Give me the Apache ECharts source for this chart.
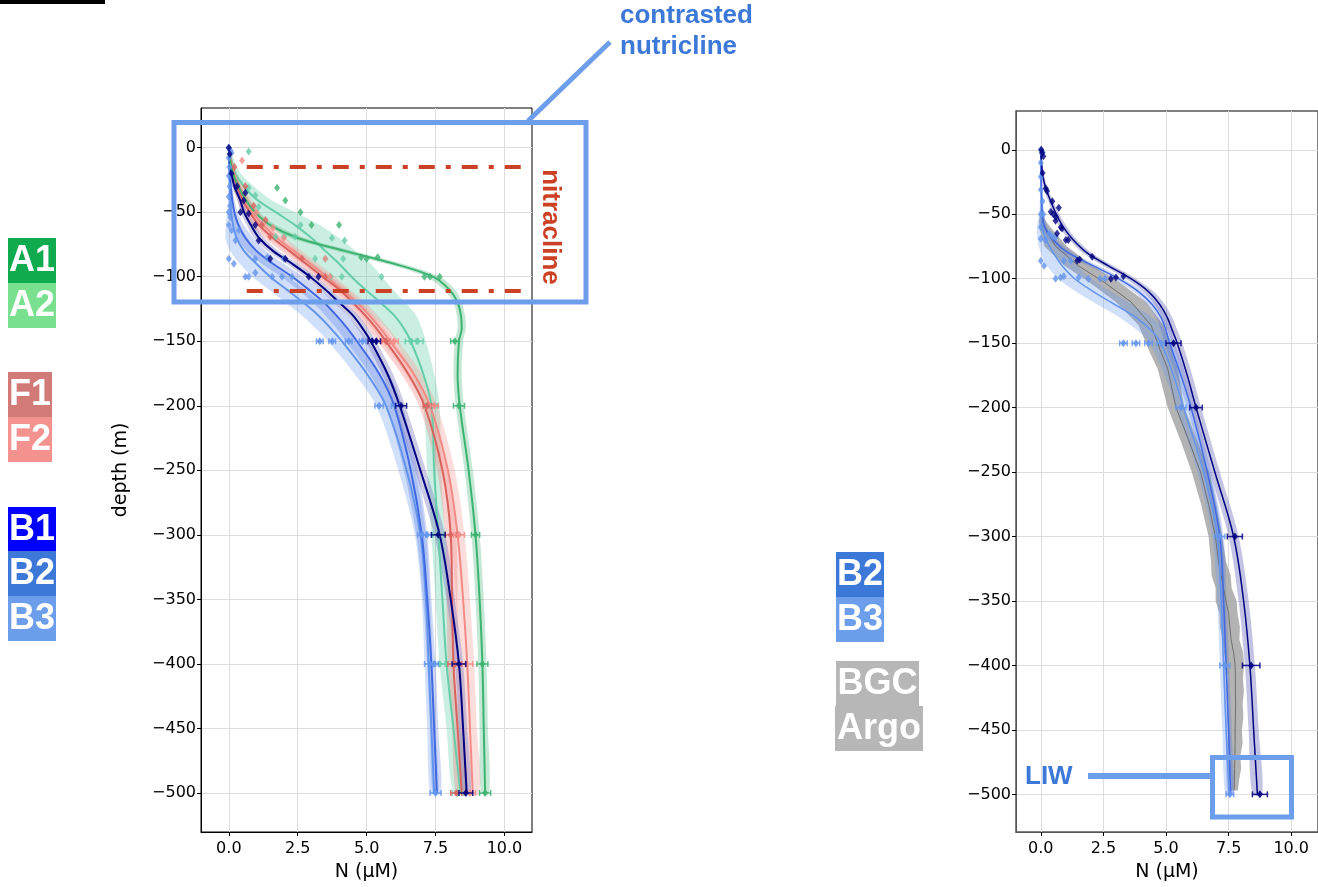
<!DOCTYPE html>
<html><head><meta charset="utf-8">
<script src="https://cdn.jsdelivr.net/npm/echarts@6/dist/echarts.min.js"></script>
<style>html,body{margin:0;padding:0;background:#fff}#c{width:1318px;height:887px}</style>
</head><body><div id="c"></div>
<script>
// ---------- tick labels ----------
const xTicks = [0, 2.5, 5, 7.5, 10];
const yTicks = [0, -50, -100, -150, -200, -250, -300, -350, -400, -450, -500];

// ---------- depth grid of fitted profiles (m, positive down) ----------
const fitDepth = [0,10,20,30,40,50,60,70,80,90,100,110,120,130,140,150,175,200,250,300,350,400,450,500];

// ---------- left panel: fitted N (µM) and half-width of shaded band ----------
const A1_N  = [0,0.05,0.15,0.35,0.6,0.95,1.5,2.5,4.2,6.0,7.4,8.0,8.3,8.42,8.45,8.35,8.3,8.38,8.7,8.95,9.1,9.2,9.25,9.3];
const A1_hw = [0.02,0.05,0.08,0.1,0.12,0.15,0.2,0.25,0.3,0.3,0.25,0.2,0.15,0.15,0.15,0.15,0.15,0.15,0.15,0.15,0.15,0.15,0.15,0.15];
const A2_N  = [0,0.1,0.24,0.55,1.0,1.7,2.4,3.0,3.5,4.0,4.45,4.95,5.5,6.0,6.35,6.6,7.05,7.35,7.45,7.6,7.75,7.9,8.15,8.4];
const A2_hw = [0.03,0.1,0.2,0.35,0.5,0.7,0.9,1.0,1.1,1.15,1.1,1.0,0.9,0.8,0.65,0.55,0.4,0.3,0.25,0.25,0.25,0.25,0.25,0.25];
const F1_N  = [0,0.05,0.15,0.3,0.5,0.75,1.1,1.6,2.2,2.8,3.4,4.0,4.5,4.95,5.35,5.7,6.5,7.1,7.75,8.05,8.1,8.15,8.3,8.45];
const F1_hw = [0.02,0.05,0.1,0.15,0.2,0.25,0.3,0.3,0.3,0.3,0.3,0.3,0.3,0.3,0.3,0.3,0.25,0.2,0.2,0.2,0.2,0.2,0.2,0.2];
const F2_N  = [0,0.08,0.2,0.38,0.6,0.85,1.25,1.75,2.35,2.95,3.55,4.1,4.65,5.1,5.5,5.85,6.7,7.3,7.95,8.3,8.5,8.65,8.75,8.85];
const F2_hw = [0.02,0.05,0.1,0.15,0.2,0.25,0.3,0.3,0.3,0.3,0.3,0.3,0.3,0.3,0.3,0.3,0.3,0.25,0.25,0.25,0.25,0.25,0.25,0.25];
const B1_N  = [0,0.03,0.1,0.2,0.4,0.55,0.8,1.1,1.6,2.3,2.95,3.5,4.0,4.5,4.85,5.15,5.75,6.2,6.95,7.65,8.05,8.35,8.5,8.63];
const B1_hw = [0.02,0.03,0.05,0.08,0.1,0.12,0.15,0.18,0.2,0.2,0.2,0.2,0.2,0.2,0.2,0.2,0.2,0.2,0.2,0.2,0.15,0.15,0.15,0.15];
const B2_N  = [0,0.02,0.04,0.07,0.12,0.2,0.35,0.6,1.0,1.6,2.3,2.9,3.45,3.9,4.3,4.65,5.45,6.0,6.6,7.0,7.2,7.35,7.45,7.55];
const B2_hw = [0.02,0.02,0.03,0.05,0.08,0.12,0.2,0.3,0.35,0.4,0.4,0.4,0.4,0.4,0.4,0.4,0.35,0.3,0.25,0.2,0.15,0.15,0.15,0.15];
const B3_N  = [0,0.01,0.02,0.03,0.05,0.08,0.15,0.28,0.55,1.0,1.5,2.1,2.7,3.25,3.7,4.1,5.0,5.7,6.45,6.95,7.15,7.25,7.35,7.45];
const B3_hw = [0.02,0.02,0.03,0.05,0.08,0.15,0.25,0.4,0.5,0.6,0.65,0.65,0.65,0.6,0.55,0.5,0.45,0.35,0.3,0.2,0.15,0.15,0.15,0.15];

// left panel observations [N, depth] and deep ones [N, depth, err]
const A1_pts  = [[1.75,31],[2.05,41],[2.6,50],[3.0,60],[4.0,60],[4.8,85],[5.4,85],[5.0,86],[7.1,100],[7.3,100],[7.65,100]];
const A1_deep = [[8.2,150,0.15],[8.35,200,0.2],[8.95,300,0.15],[9.2,400,0.2],[9.3,500,0.2]];
const A2_pts  = [[0.72,3],[0.72,31],[0.96,37],[1.08,46],[1.7,69],[2.0,69],[2.4,69],[2.6,60],[3.74,70],[4.2,72],[3.13,86],[3.5,86],[4.15,86],[3.7,100],[4.1,100],[5.54,100]];
const A2_deep = [[6.6,150,0.2],[6.85,150,0.2],[7.35,200,0.2],[7.6,300,0.2],[7.65,400,0.2],[8.3,500,0.2]];
const F1_pts  = [[0.2,15],[0.6,30],[0.9,45],[1.33,56],[1.2,60],[1.5,69],[2.65,86],[3.5,100]];
const F1_deep = [[5.7,150,0.15],[7.2,200,0.15],[8.05,300,0.2],[8.2,400,0.25],[8.25,500,0.2]];
const F2_pts  = [[0.48,10],[1.0,50],[2.0,70],[3.5,86],[3.67,100],[1.6,62]];
const F2_deep = [[6.0,150,0.15],[7.45,200,0.15],[8.35,300,0.2],[8.6,400,0.25],[8.75,500,0.2]];
const B1_pts  = [[0,0],[0.03,5],[0.1,20],[0.3,30],[0.6,35],[0.54,41],[0.42,50],[0.72,51],[0.96,60],[1.08,72],[1.5,86],[2.05,86],[2.9,100],[3.25,100]];
const B1_deep = [[5.2,150,0.15],[5.35,150,0.15],[6.25,200,0.2],[7.6,300,0.25],[8.35,400,0.25],[8.6,500,0.25]];
const B23_pts = [[0,0],[0.05,2],[0.1,4],[0,8],[0.02,15],[0,22],[0.03,30],[0,38],[0.05,45],[0,50],[0.06,54],[0,60],[0.1,64],[0.36,64],[0.24,72],[0,86],[0.96,86],[1.4,85],[2.0,86],[0.18,90],[0.96,97],[0.6,100],[0.72,100],[1.57,100],[1.93,100],[2.29,100]];
const B23_deep = [[3.3,150,0.12],[3.75,150,0.12],[4.35,150,0.12],[4.85,150,0.12],[5.45,200,0.15],[6.05,200,0.15],[7.0,300,0.15],[7.2,300,0.15],[7.3,400,0.2],[7.45,400,0.15],[7.5,500,0.2]];

// ---------- right panel ----------
const R1_N  = [0,0.03,0.08,0.2,0.4,0.62,0.9,1.3,1.85,2.7,3.6,4.3,4.75,5.05,5.25,5.45,5.85,6.2,6.95,7.7,8.1,8.35,8.5,8.65];
const R1_hw = [0.02,0.03,0.05,0.08,0.1,0.12,0.15,0.15,0.18,0.2,0.2,0.2,0.2,0.2,0.2,0.2,0.2,0.2,0.2,0.2,0.2,0.2,0.2,0.2];
const R2_N  = [0,0.01,0.02,0.03,0.04,0.06,0.15,0.5,1.1,2.1,3.1,3.9,4.45,4.8,5.0,5.15,5.6,6.0,6.65,7.15,7.3,7.4,7.5,7.58];
const R2_hw = [0.02,0.02,0.02,0.03,0.05,0.08,0.12,0.15,0.2,0.2,0.2,0.2,0.2,0.2,0.2,0.2,0.2,0.15,0.15,0.15,0.12,0.12,0.12,0.12];
const R3_N  = [0,0,0,0.01,0.02,0.03,0.05,0.22,0.5,0.85,1.35,2.1,2.95,3.8,4.4,4.8,5.3,5.7,6.5,7.05,7.2,7.3,7.4,7.52];
const R3_hw = [0.02,0.02,0.02,0.03,0.05,0.1,0.2,0.35,0.5,0.6,0.65,0.7,0.7,0.65,0.55,0.45,0.35,0.3,0.25,0.2,0.15,0.15,0.15,0.15];
const argoDepth = [50,56,65,75,90,103,118,136,157,170,200,225,250,275,300,320,330,340,350,360,370,380,390,400,410,420,430,440,450,460,470,480,490,497];
const argoMean  = [0.02,0.07,0.3,0.6,1.5,2.55,3.6,4.4,4.8,5.07,5.4,5.9,6.38,6.7,6.97,7.1,7.2,7.3,7.4,7.5,7.55,7.6,7.7,7.76,7.77,7.77,7.78,7.77,7.76,7.76,7.75,7.74,7.73,7.72];
const argoHw    = [0.05,0.15,0.3,0.45,0.55,0.6,0.6,0.5,0.45,0.4,0.33,0.33,0.35,0.3,0.27,0.3,0.38,0.32,0.42,0.36,0.4,0.33,0.38,0.36,0.3,0.34,0.28,0.32,0.27,0.3,0.22,0.26,0.18,0.15];
const R1_pts  = [[0.02,0],[0.05,2],[0.1,5],[0.07,18],[0.2,30],[0.25,32],[0.46,40],[0.72,45],[0.4,48],[0.5,50],[0.6,52],[0.59,55],[0.8,60],[0.85,61],[0.65,65],[1.0,70],[1.1,70],[1.55,85],[1.45,86],[2.05,83],[2.8,100],[3.0,99],[3.3,98]];
const R1_deep = [[5.3,150,0.3],[6.2,200,0.25],[7.75,300,0.3],[8.4,400,0.35],[8.75,500,0.3]];
const R23_pts = [[0,0],[0.05,3],[0.08,2],[0,10],[0,21],[0,31],[0.07,40],[0,50],[0.1,50],[0,60],[0.35,65],[0.46,67],[0.6,68],[0,69],[0.2,70],[0,86],[0.92,86],[1.2,86],[0.13,90],[0.92,98],[0.79,99],[1.51,99],[0.59,100],[1.9,100],[2.37,100],[2.57,100]];
const R23_deep = [[3.3,150,0.15],[3.8,150,0.15],[4.3,150,0.15],[4.8,150,0.15],[5.6,200,0.2],[7.15,300,0.2],[7.35,400,0.2],[7.55,500,0.15]];

// nitracline annotation (depths in m, N extent)
const nitraclineDepths = [14.7, 110.6];
const nitraclineN = [0.65, 10.87];

// ---------- helpers ----------
const minus = v => (v < 0 ? '\u2212' + Math.abs(v) : String(v));
function fitLine(N, color, gi, w, z) {
  return {type:'line', xAxisIndex:gi, yAxisIndex:gi, data: fitDepth.map((d,i)=>[N[i], -d]),
    smooth:0.35, showSymbol:false, silent:true, z:z||3, lineStyle:{color, width:w}, itemStyle:{color}};
}
function band(depths, N, hw, color, op, gi, sm) {
  return {type:'custom', xAxisIndex:gi, yAxisIndex:gi, data:[0], silent:true, z:1,
    renderItem:(params, api) => {
      const l = depths.map((d,i)=>api.coord([N[i]-hw[i], -d]));
      const r = depths.map((d,i)=>api.coord([N[i]+hw[i], -d])).reverse();
      return {type:'polygon', shape:{points:l.concat(r), smooth:sm}, style:{fill:color, opacity:op}};
    }};
}
function pts(arr, color, gi) {
  return {type:'scatter', xAxisIndex:gi, yAxisIndex:gi, data: arr.map(p=>[p[0], -p[1]]), silent:true, z:4,
    symbol:'diamond', symbolSize:[6,8], itemStyle:{color, opacity:0.8}};
}
function deep(arr, color, gi) {
  return {type:'custom', xAxisIndex:gi, yAxisIndex:gi, silent:true, z:5,
    data: arr.map(p=>[p[0], -p[1], p[2]]),
    renderItem:(params, api) => {
      const x = api.value(0), y = api.value(1), e = api.value(2);
      const c = api.coord([x,y]), l = api.coord([x-e,y]), r = api.coord([x+e,y]);
      const st = {stroke:color, lineWidth:1.5, opacity:0.85};
      return {type:'group', children:[
        {type:'line', shape:{x1:l[0],y1:c[1],x2:r[0],y2:c[1]}, style:st},
        {type:'line', shape:{x1:l[0],y1:c[1]-3,x2:l[0],y2:c[1]+3}, style:st},
        {type:'line', shape:{x1:r[0],y1:c[1]-3,x2:r[0],y2:c[1]+3}, style:st},
        {type:'polygon', shape:{points:[[c[0],c[1]-4],[c[0]+3,c[1]],[c[0],c[1]+4],[c[0]-3,c[1]]]}, style:{fill:color, opacity:0.9}}
      ]};
    }};
}
const FONT = 'DejaVu Sans';
function xAx(gi, min, max) {
  return {type:'value', gridIndex:gi, min, max, name:'N (µM)', nameLocation:'middle', nameGap:31,
    nameTextStyle:{fontSize:19, color:'#000', fontFamily:FONT},
    axisLine:{show:true, onZero:false, lineStyle:{color:gi?'#555':'#000'}},
    axisTick:{show:true, length:4, customValues:xTicks, lineStyle:{color:'#000'}},
    axisLabel:{customValues:xTicks, formatter:v=>v.toFixed(1), fontSize:16, color:'#000', fontFamily:FONT, margin:9},
    splitLine:{show:true, lineStyle:{color:'#dcdcdc'}}};
}
function yAx(gi, min, max, name) {
  return {type:'value', gridIndex:gi, min, max, name:name||'', nameLocation:'middle', nameGap:70,
    nameTextStyle:{fontSize:19, color:'#000', fontFamily:FONT},
    axisLine:{show:true, onZero:false, lineStyle:{color:gi?'#555':'#000'}},
    axisTick:{show:true, length:4, customValues:yTicks, lineStyle:{color:'#000'}},
    axisLabel:{customValues:yTicks, formatter:minus, fontSize:16, color:'#000', fontFamily:FONT, margin:5},
    splitLine:{show:true, lineStyle:{color:'#dcdcdc'}}};
}

const C = {A1:'#3cb371', A2:'#66cdaa', F1:'#d9625d', F2:'#f28b86', B1:'#000080', B2:'#4169e1', B3:'#6495ed'};

const series = [
  band(fitDepth, A2_N, A2_hw, C.A2, 0.35, 0, 0.3),
  band(fitDepth, A1_N, A1_hw, C.A1, 0.3, 0, 0.3),
  band(fitDepth, F1_N, F1_hw, '#f08080', 0.35, 0, 0.3),
  band(fitDepth, F2_N, F2_hw, '#f4a09c', 0.35, 0, 0.3),
  band(fitDepth, B3_N, B3_hw, C.B3, 0.3, 0, 0.3),
  band(fitDepth, B2_N, B2_hw, C.B2, 0.25, 0, 0.3),
  band(fitDepth, B1_N, B1_hw, '#6a6ab8', 0.35, 0, 0.3),
  fitLine(A2_N, C.A2, 0, 2), fitLine(F2_N, C.F2, 0, 2), fitLine(F1_N, C.F1, 0, 2),
  fitLine(B3_N, C.B3, 0, 2), fitLine(B2_N, C.B2, 0, 2), fitLine(B1_N, C.B1, 0, 2),
  fitLine(A1_N, C.A1, 0, 2),
  pts(A2_pts, C.A2, 0), pts(A1_pts, C.A1, 0), pts(F1_pts, C.F1, 0), pts(F2_pts, C.F2, 0),
  pts(B23_pts, C.B3, 0), pts(B1_pts, C.B1, 0),
  deep(A2_deep, C.A2, 0), deep(A1_deep, C.A1, 0), deep(F1_deep, C.F1, 0), deep(F2_deep, C.F2, 0),
  deep(B23_deep, C.B3, 0), deep(B1_deep, C.B1, 0),
  {type:'line', xAxisIndex:0, yAxisIndex:0, data:[], silent:true, z:6,
    markLine:{silent:true, symbol:'none', label:{show:false},
      lineStyle:{color:'#cc4125', width:4, type:[16,11,5,11], opacity:1},
      data: nitraclineDepths.map(d=>[{coord:[nitraclineN[0], -d]},{coord:[nitraclineN[1], -d]}])}},
  // right panel
  band(argoDepth, argoMean, argoHw, '#a6a6a6', 0.85, 1, 0),
  band(fitDepth, R3_N, R3_hw, C.B3, 0.3, 1, 0.3),
  band(fitDepth, R2_N, R2_hw, C.B2, 0.25, 1, 0.3),
  band(fitDepth, R1_N, R1_hw, '#6a6ab8', 0.4, 1, 0.3),
  {type:'line', xAxisIndex:1, yAxisIndex:1, data: argoDepth.map((d,i)=>[argoMean[i], -d]), showSymbol:false, silent:true, z:2, lineStyle:{color:'#707070', width:1}},
  fitLine(R3_N, C.B3, 1, 1.5), fitLine(R2_N, C.B2, 1, 1.5), fitLine(R1_N, C.B1, 1, 1.5),
  pts(R23_pts, C.B3, 1), pts(R1_pts, C.B1, 1),
  deep(R23_deep, C.B3, 1), deep(R1_deep, C.B1, 1)
];

const LBL = 'bold 36px "Liberation Sans", Arial, sans-serif';
function tag(x, y, w, h, color, text) {
  return [
    {type:'rect', shape:{x, y, width:w, height:h}, style:{fill:color}, z:100},
    {type:'text', x:x+w/2, y:y+h/2+1, style:{text, fill:'#fff', font:LBL, textAlign:'center', textVerticalAlign:'middle'}, z:101}
  ];
}
const BLUE = '#6d9eeb', TXTBLUE = '#3c78d8';
const graphic = [
  {type:'rect', shape:{x:0, y:0, width:105, height:4}, style:{fill:'#000'}, z:100},
  ...tag(8, 238, 48, 45, '#10ab4e', 'A1'),
  ...tag(8, 283, 48, 45, '#78e08f', 'A2'),
  ...tag(8, 372, 44, 45, '#d17a78', 'F1'),
  ...tag(8, 417, 44, 45, '#f4928f', 'F2'),
  ...tag(8, 507, 48, 44, '#0000ff', 'B1'),
  ...tag(8, 551, 48, 45, '#3c78d8', 'B2'),
  ...tag(8, 596, 48, 45, '#6d9eeb', 'B3'),
  ...tag(836, 552, 48, 45, '#3c78d8', 'B2'),
  ...tag(836, 597, 48, 45, '#6d9eeb', 'B3'),
  ...tag(836, 661, 83, 45, '#b7b7b7', 'BGC'),
  ...tag(835, 706, 88, 45, '#b7b7b7', 'Argo'),
  {type:'rect', shape:{x:174, y:122.5, width:412, height:179.5}, style:{fill:null, stroke:BLUE, lineWidth:5}, z:100},
  {type:'line', shape:{x1:528, y1:121, x2:610, y2:42}, style:{stroke:BLUE, lineWidth:5}, z:100},
  {type:'text', x:620, y:16, style:{text:'contrasted', fill:TXTBLUE, font:'bold 26px "Liberation Sans", Arial, sans-serif', textVerticalAlign:'middle'}, z:100},
  {type:'text', x:620, y:47, style:{text:'nutricline', fill:TXTBLUE, font:'bold 26px "Liberation Sans", Arial, sans-serif', textVerticalAlign:'middle'}, z:100},
  {type:'text', x:550, y:227, rotation:-Math.PI/2, style:{text:'nitracline', fill:'#cc4125', font:'bold 26px "Liberation Sans", Arial, sans-serif', textAlign:'center', textVerticalAlign:'middle'}, z:100},
  {type:'text', x:1025, y:777, style:{text:'LIW', fill:TXTBLUE, font:'bold 26px "Liberation Sans", Arial, sans-serif', textVerticalAlign:'middle'}, z:100},
  {type:'line', shape:{x1:1088, y1:776, x2:1212, y2:776}, style:{stroke:BLUE, lineWidth:6}, z:100},
  {type:'rect', shape:{x:1212.5, y:757.5, width:79, height:59.5}, style:{fill:null, stroke:BLUE, lineWidth:5}, z:100}
];

const chart = echarts.init(document.getElementById('c'), null, {renderer:'canvas'});
chart.setOption({
  animation:false,
  backgroundColor:'#fff',
  grid:[
    {left:201, top:108, width:331, height:725, show:true, borderColor:'#000', borderWidth:1, backgroundColor:'transparent'},
    {left:1016, top:111, width:305, height:724, show:true, borderColor:'#555', borderWidth:1.5, backgroundColor:'transparent'}
  ],
  xAxis:[xAx(0, -1.01, 11.0), xAx(1, -0.99, 11.07)],
  yAxis:[yAx(0, -530.2, 30.7, 'depth (m)'), yAx(1, -529.2, 30.1, '')],
  series,
  graphic
});
</script></body></html>
